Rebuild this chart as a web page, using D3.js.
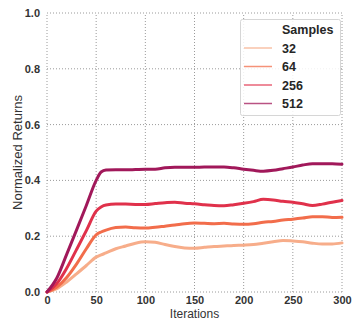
<!DOCTYPE html>
<html>
<head>
<meta charset="utf-8">
<script src="https://cdn.jsdelivr.net/npm/d3@7"></script>
<style>
  body { margin: 0; background: #fff; }
  text { font-family: "Liberation Sans", Arial, sans-serif; }
</style>
</head>
<body>
<div id="chart"></div>
<script>
// iterations and returns for each sample size
var iters = [0, 10, 20, 30, 40, 50, 55, 60, 70, 80, 90, 100, 110, 120, 130, 140, 150, 160, 170, 180, 190, 200, 210, 220, 230, 240, 250, 260, 270, 280, 290, 300];
var s32  = [0, 0.012, 0.036, 0.065, 0.095, 0.125, 0.133, 0.14, 0.155, 0.165, 0.175, 0.18, 0.178, 0.17, 0.163, 0.158, 0.157, 0.16, 0.163, 0.165, 0.167, 0.168, 0.17, 0.175, 0.18, 0.185, 0.183, 0.18, 0.175, 0.172, 0.172, 0.176];
var s64  = [0, 0.018, 0.052, 0.10, 0.155, 0.205, 0.215, 0.222, 0.231, 0.233, 0.23, 0.229, 0.232, 0.236, 0.24, 0.245, 0.247, 0.246, 0.245, 0.246, 0.244, 0.243, 0.245, 0.25, 0.253, 0.258, 0.261, 0.265, 0.27, 0.27, 0.267, 0.268];
var s256 = [0, 0.03, 0.085, 0.152, 0.22, 0.29, 0.305, 0.312, 0.315, 0.315, 0.314, 0.314, 0.317, 0.32, 0.322, 0.318, 0.316, 0.313, 0.31, 0.309, 0.313, 0.318, 0.324, 0.332, 0.33, 0.325, 0.322, 0.316, 0.31, 0.315, 0.322, 0.328];
var s512 = [0, 0.05, 0.135, 0.222, 0.31, 0.40, 0.43, 0.437, 0.438, 0.438, 0.439, 0.44, 0.44, 0.445, 0.447, 0.447, 0.447, 0.448, 0.448, 0.448, 0.445, 0.44, 0.436, 0.433, 0.436, 0.442, 0.448, 0.455, 0.46, 0.46, 0.46, 0.458];
var names = ["32", "64", "256", "512"];
var colors = ["#f7ad8a", "#f26d4b", "#e0314b", "#a1185a"];
var xTicks = [0, 50, 100, 150, 200, 250, 300];
var yTicks = [0, 0.2, 0.4, 0.6, 0.8, 1.0];

var allSeries = [s32, s64, s256, s512];

var w = 352, h = 320;
var margin = {top: 13, right: 10, bottom: 28, left: 47};

var svg = d3.select("#chart").append("svg")
    .attr("width", w)
    .attr("height", h);

var x = d3.scaleLinear().domain([0, 300]).range([margin.left, w - margin.right]);
var y = d3.scaleLinear().domain([0, 1]).range([h - margin.bottom, margin.top]);

// dotted grid
svg.append("g").selectAll("line")
    .data(xTicks)
    .enter().append("line")
    .attr("x1", function(d) { return x(d); })
    .attr("x2", function(d) { return x(d); })
    .attr("y1", y(0))
    .attr("y2", y(1))
    .attr("stroke", "#9a9a9a")
    .attr("stroke-width", 1)
    .attr("stroke-dasharray", "1,2");

svg.append("g").selectAll("line")
    .data(yTicks)
    .enter().append("line")
    .attr("x1", x(0))
    .attr("x2", x(300))
    .attr("y1", function(d) { return y(d); })
    .attr("y2", function(d) { return y(d); })
    .attr("stroke", "#9a9a9a")
    .attr("stroke-width", 1)
    .attr("stroke-dasharray", "1,2");

// axes, only the tick labels are shown
var xAxis = svg.append("g")
    .attr("transform", "translate(0," + y(0) + ")")
    .call(d3.axisBottom(x).tickValues(xTicks).tickSize(0).tickPadding(4));
var yAxis = svg.append("g")
    .attr("transform", "translate(" + x(0) + ",0)")
    .call(d3.axisLeft(y).tickValues(yTicks).tickSize(0).tickPadding(7).tickFormat(d3.format(".1f")));

[xAxis, yAxis].forEach(function(a) {
  a.select(".domain").remove();
  a.selectAll("text")
    .attr("font-family", "'Liberation Sans', Arial, sans-serif")
    .attr("font-size", "11px")
    .attr("font-weight", "bold")
    .attr("fill", "#333");
});

// lines
var line = d3.line()
    .x(function(d, i) { return x(iters[i]); })
    .y(function(d) { return y(d); })
    .curve(d3.curveMonotoneX);

svg.append("g").selectAll("path")
    .data(allSeries)
    .enter().append("path")
    .attr("d", line)
    .attr("fill", "none")
    .attr("stroke", function(d, i) { return colors[i]; })
    .attr("stroke-width", 3)
    .attr("stroke-linejoin", "round")
    .attr("stroke-linecap", "round");

// axis labels
svg.append("text")
    .attr("x", (x(0) + x(300)) / 2)
    .attr("y", 317.5)
    .attr("text-anchor", "middle")
    .attr("font-size", "12px")
    .attr("fill", "#333")
    .text("Iterations");

svg.append("text")
    .attr("transform", "translate(22," + ((y(0) + y(1)) / 2) + ") rotate(-90)")
    .attr("text-anchor", "middle")
    .attr("font-size", "13px")
    .attr("fill", "#333")
    .text("Normalized Returns");

// legend
var leg = svg.append("g");
leg.append("rect")
    .attr("x", 240.5)
    .attr("y", 19.5)
    .attr("width", 100)
    .attr("height", 96)
    .attr("rx", 2)
    .attr("fill", "#fff")
    .attr("fill-opacity", 0.85)
    .attr("stroke", "#d6d6d6");

leg.append("text")
    .attr("x", 282)
    .attr("y", 34)
    .attr("font-size", "12.5px")
    .attr("font-weight", "bold")
    .attr("fill", "#262626")
    .text("Samples");

var items = leg.selectAll("g.item")
    .data(names)
    .enter().append("g")
    .attr("class", "item")
    .attr("transform", function(d, i) { return "translate(0," + (48 + i * 18.5) + ")"; });

items.append("line")
    .attr("x1", 244)
    .attr("x2", 272)
    .attr("stroke", function(d, i) { return colors[i]; })
    .attr("stroke-width", 1.5)
    .attr("stroke-opacity", 0.75);

items.append("text")
    .attr("x", 282)
    .attr("y", 4.5)
    .attr("font-size", "12.5px")
    .attr("font-weight", "bold")
    .attr("fill", "#262626")
    .text(function(d) { return d; });
</script>
</body>
</html>
